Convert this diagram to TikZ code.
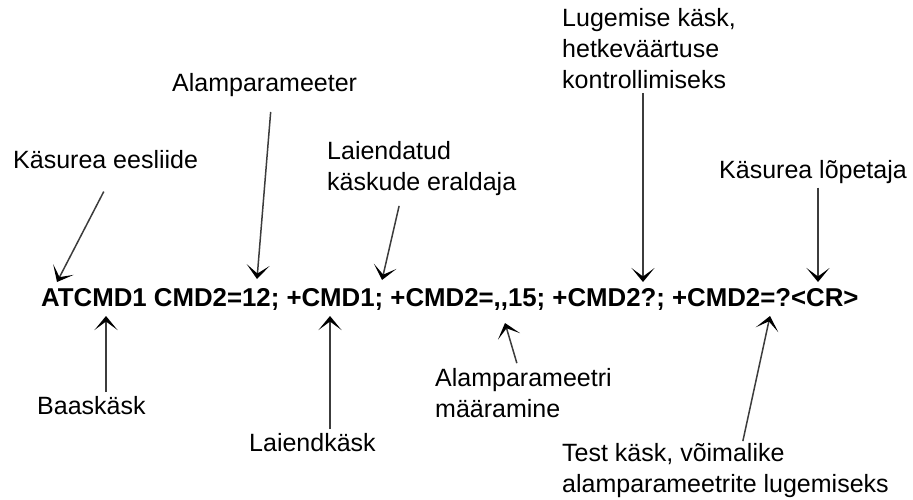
\documentclass[tikz,border=0pt]{standalone}
\usepackage{fontspec}
\setmainfont{Liberation Sans}
\usetikzlibrary{arrows.meta}
\definecolor{linegray}{HTML}{3c3c3c}

\begin{document}
\begin{tikzpicture}[
  x=1pt, y=-1pt,
  lbl/.style={font=\fontsize{25}{31}\selectfont, inner sep=0pt,
    align=left, anchor=north west},
  cmd/.style={font=\fontsize{25.8}{30}\selectfont\bfseries, inner sep=0pt,
    anchor=base west},
  arr/.style={-{Stealth[length=14pt, width=23pt, inset=8.5pt, color=black]},
    line width=1.5pt, draw=linegray, shorten <=4pt}
]
\useasboundingbox (0,0) rectangle (913,499);
% command line
\node[cmd] (line) at (41,306) {ATCMD1 CMD2=12; +CMD1; +CMD2={,}{,}15; +CMD2?; +CMD2=?<CR>};
% labels above
\node[lbl] (eesliide) at (13,150)  {Käsurea eesliide};
\node[lbl] (alam)     at (172,73)  {Alamparameeter};
\node[lbl] (eraldaja) at (327,141) {Laiendatud\\käskude eraldaja};
\node[lbl] (lugemine) at (562,8)   {Lugemise käsk,\\hetkeväärtuse\\kontrollimiseks};
\node[lbl] (lopetaja) at (719,160) {Käsurea lõpetaja};
% labels below
\node[lbl] (baas)     at (37,396)  {Baaskäsk};
\node[lbl] (laiendk)  at (249,433) {Laiendkäsk};
\node[lbl] (maaramine) at (435,368) {Alamparameetri\\määramine};
\node[lbl] (test)     at (562,443) {Test käsk, võimalike\\alamparameetrite lugemiseks};
% arrow tips
\coordinate (tAT)   at (57,282);
\coordinate (t12)   at (257,279);
\coordinate (tplus) at (382,280);
\coordinate (tq)    at (643,282);
\coordinate (tcr)   at (818,282);
\coordinate (tM)    at (106,316);
\coordinate (tM2)   at (330,316);
\coordinate (tcom)  at (505,323);
\coordinate (tq2)   at (770,316);
% arrows
\draw[arr] (eesliide.south |- 0,188) -- (tAT);
\draw[arr] (271,108) -- (t12);
\draw[arr] (400,202) -- (tplus);
\draw[arr] (lugemine.south -| tq) -- (tq);
\draw[arr] (lopetaja.south -| tcr) -- (tcr);
\draw[arr] (baas.north -| tM) -- (tM);
\draw[arr] (laiendk.north -| tM2) -- (tM2);
\draw[arr] (518,367) -- (tcom);
\draw[arr] (742,445) -- (tq2);
\end{tikzpicture}
\end{document}
